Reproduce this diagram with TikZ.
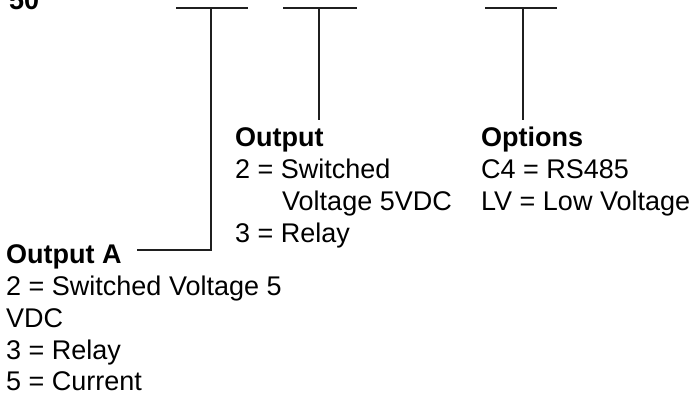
\documentclass[tikz,border=0pt]{standalone}
\usepackage{fontspec}
\setmainfont{Liberation Sans}
\tikzset{
  lbl/.style={anchor=base west, inner sep=0pt, font=\fontsize{27}{32}\selectfont},
  hd/.style={lbl, font=\fontsize{27}{32}\selectfont\bfseries},
  conn/.style={line width=2.4pt, black!88},
}
\begin{document}
\begin{tikzpicture}[x=1pt,y=-1pt]
\useasboundingbox (0,0) rectangle (693,395);
% top-left code (cropped)
\node[hd] (code) at (9,9.5) {50};
% bars
\coordinate (b1l) at (176,8); \coordinate (b1r) at (248,8); \coordinate (b1m) at (211,8);
\coordinate (b2l) at (283,8); \coordinate (b2r) at (357,8); \coordinate (b2m) at (319,8);
\coordinate (b3l) at (485,8); \coordinate (b3r) at (557,8); \coordinate (b3m) at (523,8);
% right column
\node[hd] (out) at (235,147) {Output};
\node[lbl] (o1) at (235,179) {2 = Switched};
\node[lbl] (o2) at (282,211) {Voltage 5VDC};
\node[lbl] (o3) at (235,243) {3 = Relay};
\node[hd] (opt) at (481,147) {Options};
\node[lbl] (p1) at (481,179) {C4 = RS485};
\node[lbl] (p2) at (481,211) {LV = Low Voltage};
% left column
\node[hd] (outA) at (6,264) {Output A};
\node[lbl] (a1) at (6,295.7) {2 = Switched Voltage 5};
\node[lbl] (a2) at (6,327.4) {VDC};
\node[lbl] (a3) at (6,359.1) {3 = Relay};
\node[lbl] (a4) at (6,390.8) {5 = Current};
% connectors
\coordinate (c2) at (319,120);
\coordinate (c3) at (523,120);
\coordinate (cA) at (211,250);
\coordinate (eA) at (137,250);
\draw[conn] (b1l) -- (b1r);
\draw[conn] (b2l) -- (b2r);
\draw[conn] (b3l) -- (b3r);
\draw[conn] (b1m) -- (cA) -- (eA);
\draw[conn] (b2m) -- (c2);
\draw[conn] (b3m) -- (c3);
\end{tikzpicture}
\end{document}
